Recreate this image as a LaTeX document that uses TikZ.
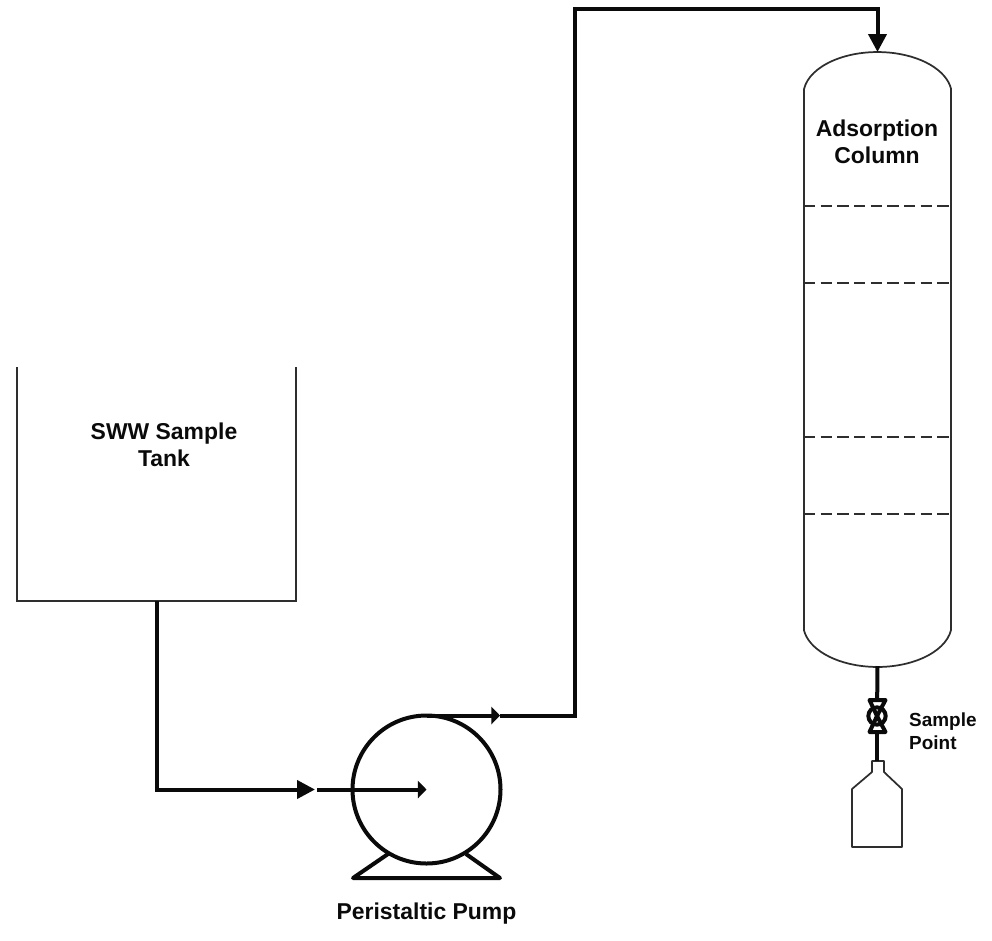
\documentclass[tikz,border=0pt]{standalone}
\usepackage{fontspec}
\setmainfont{Liberation Sans}
\usetikzlibrary{arrows.meta, positioning}
\definecolor{pipeblack}{HTML}{0A0A0A}
\definecolor{vesselgrey}{HTML}{2E2E2E}
\tikzset{
  pipe/.style={draw=pipeblack, line width=3pt, line join=miter},
  vessel/.style={draw=vesselgrey, line width=1.3pt},
  ghost/.style={inner sep=0pt, outer sep=0pt},
  biglabel/.style={font=\fontsize{17.2}{20.5}\selectfont\bfseries, align=center, text=pipeblack},
  smalllabel/.style={font=\fontsize{14.2}{17.5}\selectfont\bfseries, align=left, text=pipeblack},
  longtip/.style={-{Triangle[length=13.5pt,width=13.5pt]}},
  shorttip/.style={-{Triangle[length=6.5pt,width=13pt]}}
}
\begin{document}
\begin{tikzpicture}[x=0.75pt, y=-0.75pt]
    \useasboundingbox (0,0) rectangle (992,940);

    % tank
    \node[ghost, minimum width=209.25pt, minimum height=175.5pt] (tank) at (156.5,484) {};
    \draw[vessel] (tank.north west) |- (tank.south east) -- (tank.north east);
    \node[biglabel] (tanklabel) at (164,445) {SWW Sample\\Tank};

    % pump
    \node[ghost, circle, draw=pipeblack, line width=3pt, minimum size=111pt] (pump) at (426.5,789.5) {};
    \coordinate (footleft) at (388,854);
    \coordinate (footright) at (466,854);
    \draw[pipe, line join=round] (footleft) -- (353,878) -- (500,878) -- (footright);
    \node[biglabel, below=26pt of pump.south] (pumplabel) {Peristaltic Pump};

    % column
    \node[ghost, minimum width=110.25pt, minimum height=460.5pt] (column) at (877.5,359) {};
    \draw[vessel] (804,89) arc[start angle=172, end angle=8, x radius=55.7pt, y radius=32.2pt]
       -- (951,630) arc[start angle=-8, end angle=-172, x radius=55.7pt, y radius=32.2pt] -- cycle;
    \foreach \ypos in {206,283,437,514}
      \draw[vessel, dash pattern=on 8.5pt off 4pt] (804,\ypos) -- (951,\ypos);
    \node[biglabel] (columnlabel) at (877,142) {Adsorption\\Column};

    % bottle
    \node[ghost, minimum width=37.5pt, minimum height=64.5pt] (bottle) at (877,804) {};
    \draw[vessel, line join=round] (872,761) -- (884,761) -- (884,772) -- (902,789) -- (902,847)
       -- (852,847) -- (852,789) -- (872,772) -- cycle;

    % pipes
    \coordinate (inmark) at (315,789.5);
    \coordinate (outmark) at (500,715.5);
    \coordinate (riser) at (575,9);
    \draw[pipe, longtip] (tank.south) |- (inmark);
    \draw[pipe, shorttip] (317,789.5) -- (pump.center);
    \draw[pipe, shorttip] (pump.north) -- (outmark);
    \draw[pipe, longtip] (outmark) -| (riser) -| (column.north);

    % valve
    \coordinate (valve) at (877,716);
    \draw[pipe] (column.south) -- (valve);
    \draw[pipe] (valve) -- (bottle.north);
    \draw[pipe, fill=white, line join=round] (869.5,700) -- (885.5,700) -- (valve) -- cycle;
    \draw[pipe, fill=white, line join=round] (869.5,732) -- (885.5,732) -- (valve) -- cycle;
    \node[ghost, circle, draw=pipeblack, line width=3pt, minimum size=13pt] (valvebody) at (valve) {};
    \node[smalllabel, anchor=west] (samplelabel) at (904.5,731) {Sample\\Point};
\end{tikzpicture}
\end{document}
